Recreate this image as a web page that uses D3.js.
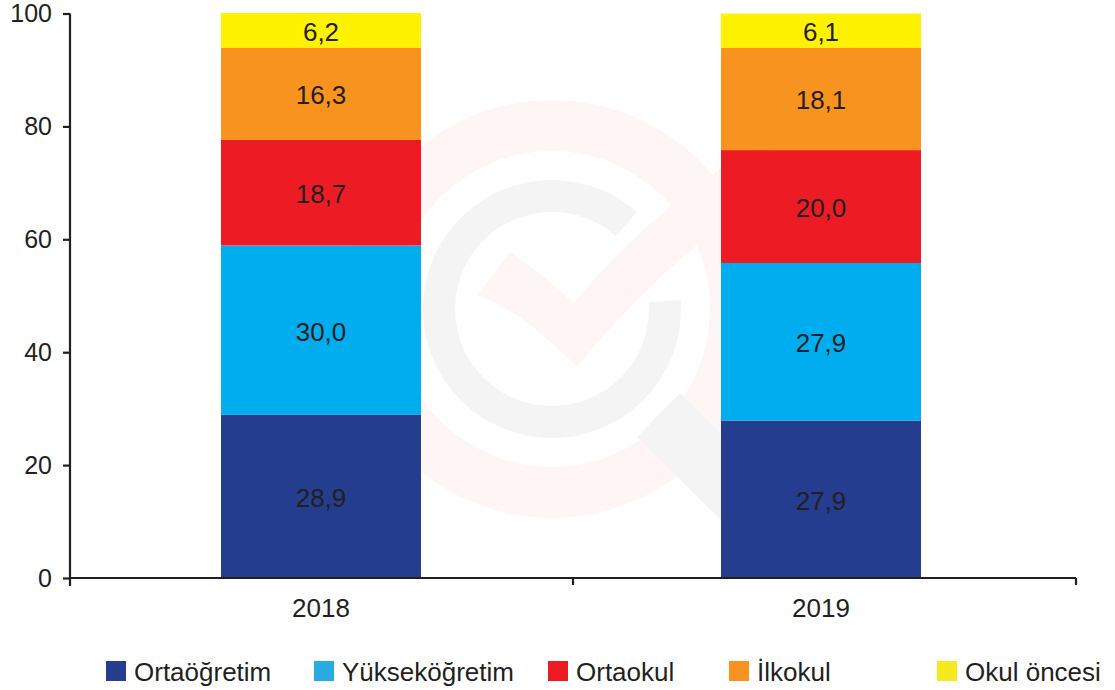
<!DOCTYPE html>
<html>
<head>
<meta charset="utf-8">
<script src="https://cdn.jsdelivr.net/npm/d3@7"></script>
<style>
  html, body { margin: 0; padding: 0; background: #fff; }
  svg text { font-family: "Liberation Sans", Arial, sans-serif; fill: #231f20; }
</style>
</head>
<body>
<div id="chart"></div>
<script>
// stacked share by education level, percent
const years = ["2018", "2019"];
const levels = ["Ortaöğretim", "Yükseköğretim", "Ortaokul", "İlkokul", "Okul öncesi"];
const ortaogretim   = [28.9, 27.9];
const yuksekogretim = [30.0, 27.9];
const ortaokul      = [18.7, 20.0];
const ilkokul       = [16.3, 18.1];
const okulOncesi    = [6.2, 6.1];
const yTicks = [0, 20, 40, 60, 80, 100];

const barColours    = ["#253d8f", "#00aeef", "#ed1c24", "#f7931e", "#fff200"];
const legendColours = ["#253d8f", "#29abe2", "#ed1c24", "#f7931e", "#f5ea1f"];

(function() {
  const fullW = 1115, fullH = 690;
  const svg = d3.select("#chart").append("svg")
    .attr("width", fullW).attr("height", fullH);

  const x = d3.scaleBand().domain(years).range([71, 1071])
    .paddingInner(0.6).paddingOuter(0.3);
  const y = d3.scaleLinear().domain([0, 100]).range([578, 13.5]);

  // faint watermark (magnifier + check) behind the bars
  const wm = svg.append("g").attr("transform", "translate(552,309)");
  wm.append("path")
    .attr("d", d3.arc()({ innerRadius: 158, outerRadius: 209, startAngle: 0, endAngle: 2 * Math.PI }))
    .attr("fill", "#fef6f5");
  wm.append("path")
    .attr("d", d3.arc()({ innerRadius: 97, outerRadius: 129, startAngle: 1.5, endAngle: 2 * Math.PI + 0.72 }))
    .attr("fill", "#f4f4f4");
  wm.append("path")
    .attr("d", "M85,128 L128,84 L260,216 L217,259 Z")
    .attr("fill", "#f4f4f4");
  wm.append("path")
    .attr("d", "M-75,-14 L-42,-57 Q-5,-32 21,-6 Q110,-110 215,-170 L240,-130 Q120,-60 25,58 Q-30,2 -75,-14 Z")
    .attr("fill", "#fef6f5");

  const series = [ortaogretim, yuksekogretim, ortaokul, ilkokul, okulOncesi];
  const rows = years.map((yr, i) => {
    const r = { year: yr };
    levels.forEach((lv, j) => { r[lv] = series[j][i]; });
    return r;
  });
  const stacked = d3.stack().keys(levels)(rows);

  const layers = svg.selectAll(".layer").data(stacked).enter()
    .append("g").attr("class", "layer")
    .attr("fill", (d, i) => barColours[i]);

  layers.selectAll("rect").data(d => d).enter()
    .append("rect")
    .attr("x", d => x(d.data.year))
    .attr("width", x.bandwidth())
    .attr("y", d => y(d[1]))
    .attr("height", d => y(d[0]) - y(d[1]));

  layers.selectAll("text").data(d => d.map(p => ({ p, key: d.key }))).enter()
    .append("text")
    .attr("x", d => x(d.p.data.year) + x.bandwidth() / 2)
    .attr("y", d => (y(d.p[0]) + y(d.p[1])) / 2)
    .attr("dy", "0.4em")
    .attr("text-anchor", "middle")
    .style("font-size", "26px")
    .text(d => d3.format(".1f")(d.p.data[d.key]).replace(".", ","));

  // y axis
  const yAxis = svg.append("g").attr("transform", "translate(70,0)")
    .call(d3.axisLeft(y).tickValues(yTicks).tickSize(7).tickPadding(11).tickFormat(d3.format("d")));
  yAxis.select(".domain").attr("d", `M0,${y(100)}V586`);
  yAxis.selectAll("path, line").attr("stroke", "#231f20").attr("stroke-width", 2.2);
  yAxis.selectAll("text").style("font-size", "25px").style("font-family", "Liberation Sans, Arial, sans-serif").attr("fill", "#231f20");

  // x axis: ticks between categories, labels centred under bars
  const step = x.step();
  const bounds = [70, x(years[0]) + x.bandwidth() / 2 + step / 2 + 2, 1076];
  const xAxis = svg.append("g");
  xAxis.append("line")
    .attr("x1", 70).attr("x2", 1076).attr("y1", y(0)).attr("y2", y(0))
    .attr("stroke", "#231f20").attr("stroke-width", 2.2);
  xAxis.selectAll(".xtick").data(bounds.slice(1)).enter()
    .append("line")
    .attr("x1", d => d).attr("x2", d => d)
    .attr("y1", y(0)).attr("y2", y(0) + 7)
    .attr("stroke", "#231f20").attr("stroke-width", 2.2);
  xAxis.selectAll(".xlabel").data(years).enter()
    .append("text")
    .attr("x", d => x(d) + x.bandwidth() / 2)
    .attr("y", 617)
    .attr("text-anchor", "middle")
    .style("font-size", "26px")
    .text(d => d);

  // legend
  const legendX = [106, 314, 548, 729, 937];
  const leg = svg.selectAll(".leg").data(levels).enter()
    .append("g").attr("class", "leg")
    .attr("transform", (d, i) => `translate(${legendX[i]},661)`);
  leg.append("rect").attr("width", 20).attr("height", 20)
    .attr("fill", (d, i) => legendColours[i]);
  leg.append("text").attr("x", 28).attr("y", 19.5)
    .style("font-size", "26px")
    .text(d => d);
})();
</script>
</body>
</html>
